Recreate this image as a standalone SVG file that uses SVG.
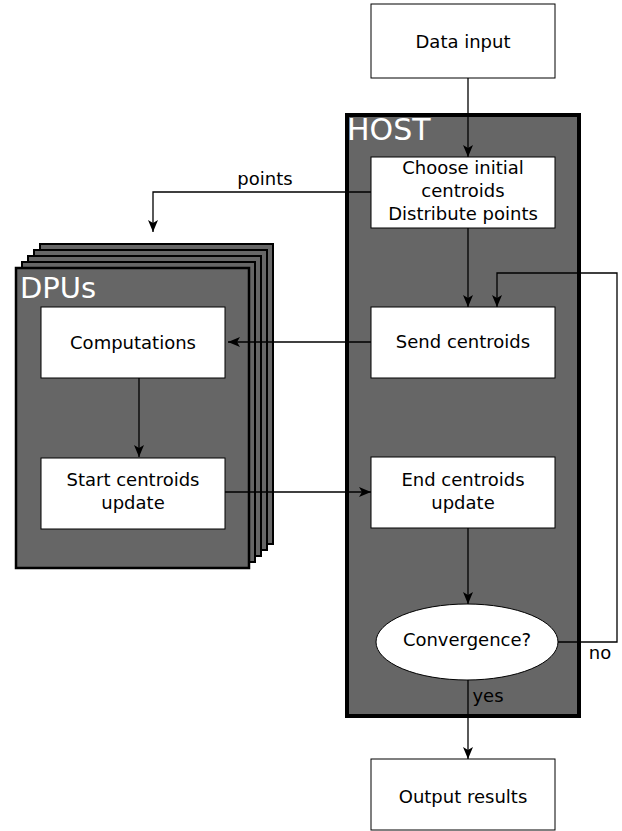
<svg xmlns="http://www.w3.org/2000/svg" width="622" height="831" viewBox="0 0 622 831">
<defs>
<style>
.box{fill:#fff;stroke:#000;stroke-width:1}
.panel{fill:#666;stroke:#000}
.t{font-family:"DejaVu Sans",sans-serif;font-size:18px;fill:#000;text-anchor:middle}
.big{font-family:"DejaVu Sans",sans-serif;font-size:30px;fill:#fff}
.c{fill:none;stroke:#000;stroke-width:1.3}
</style>
<marker id="ah" markerWidth="12" markerHeight="10" refX="12" refY="5" orient="auto" markerUnits="userSpaceOnUse">
<path d="M0,0 L12,5 L0,10 L3,5 Z" fill="#000"/>
</marker>
</defs>
<rect width="622" height="831" fill="#fff"/>
<g id="dpus">
<rect class="panel" x="40" y="244" width="233" height="300" stroke-width="2"/>
<rect class="panel" x="34" y="250" width="233" height="300" stroke-width="2"/>
<rect class="panel" x="28" y="256" width="233" height="300" stroke-width="2"/>
<rect class="panel" x="22" y="262" width="233" height="300" stroke-width="2"/>
<rect class="panel" x="16" y="268" width="233" height="300" stroke-width="2.5"/>
<text class="big" x="20" y="298" style="font-size:29px">DPUs</text>
</g>
<g id="host">
<rect class="panel" x="347" y="115" width="232" height="601" stroke-width="4"/>
<text class="big" x="347" y="140">HOST</text>
</g>
<g id="data-input">
<rect class="box" x="371" y="4" width="184" height="74"/>
<text class="t" x="463" y="48">Data input</text>
</g>
<g id="choose">
<rect class="box" x="371" y="157" width="184" height="71"/>
<text class="t" x="463" y="174">Choose initial</text>
<text class="t" x="463" y="197">centroids</text>
<text class="t" x="463" y="220">Distribute points</text>
</g>
<g id="send">
<rect class="box" x="371" y="307" width="184" height="71"/>
<text class="t" x="463" y="348">Send centroids</text>
</g>
<g id="end">
<rect class="box" x="371" y="457" width="184" height="71"/>
<text class="t" x="463" y="486">End centroids</text>
<text class="t" x="463" y="509">update</text>
</g>
<g id="convergence">
<ellipse cx="467" cy="642" rx="91" ry="38" fill="#fff" stroke="#000" stroke-width="1"/>
<text class="t" x="467" y="646">Convergence?</text>
</g>
<g id="output">
<rect class="box" x="371" y="759" width="184" height="71"/>
<text class="t" x="463" y="803">Output results</text>
</g>
<g id="computations">
<rect class="box" x="41" y="307" width="184" height="71"/>
<text class="t" x="133" y="349">Computations</text>
</g>
<g id="start">
<rect class="box" x="41" y="458" width="184" height="71"/>
<text class="t" x="133" y="486">Start centroids</text>
<text class="t" x="133" y="509">update</text>
</g>
<g id="connectors">
<path class="c" d="M468,78 V157" marker-end="url(#ah)"/>
<path class="c" d="M468,228 V307" marker-end="url(#ah)"/>
<path class="c" d="M371,192 H153 V232" marker-end="url(#ah)"/>
<path class="c" d="M371,342 H228" marker-end="url(#ah)"/>
<path class="c" d="M139,378 V457" marker-end="url(#ah)"/>
<path class="c" d="M225,492 H371" marker-end="url(#ah)"/>
<path class="c" d="M468,528 V604" marker-end="url(#ah)"/>
<path class="c" d="M558,642 H617 V273 H497 V307" marker-end="url(#ah)"/>
<path class="c" d="M468,680 V759" marker-end="url(#ah)"/>
<text class="t" x="265" y="185">points</text>
<text class="t" x="600" y="659">no</text>
<text class="t" x="488" y="702">yes</text>
</g>
</svg>
